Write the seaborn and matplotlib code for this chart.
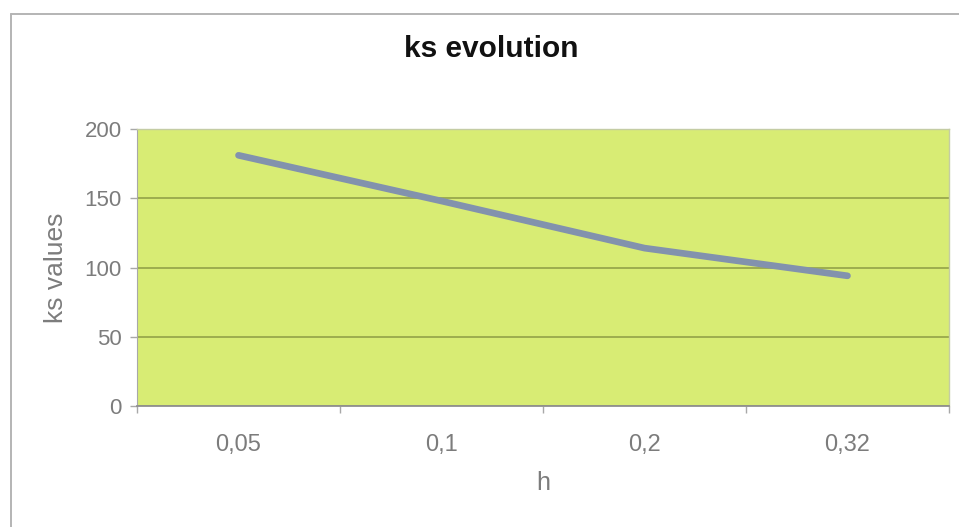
import matplotlib
matplotlib.use("Agg")
import matplotlib.pyplot as plt
import seaborn as sns
import pandas as pd
from matplotlib.lines import Line2D

categories = ["0,05", "0,1", "0,2", "0,32"]
ks_values = [181, 148, 114, 94]
y_ticks = [0, 50, 100, 150, 200]

sns.set_style("white")
plt.rcParams['font.family'] = ['Liberation Sans', 'DejaVu Sans']

df = pd.DataFrame({"h": categories, "ks": ks_values})

fig = plt.figure(figsize=(9.59, 5.27), dpi=100)
ax = fig.add_axes([137/959, 1-406/527, (949-137)/959, (406-129)/527])
ax.set_facecolor("#d8ec74")

sns.lineplot(data=df, x="h", y="ks", ax=ax, color="#8292ad", linewidth=4.8,
             sort=False, solid_capstyle="round")

ax.set_xlim(-0.5, 3.5)
ax.set_ylim(0, 200)
ax.set_yticks(y_ticks)
ax.set_yticklabels([str(v) for v in y_ticks])
ax.yaxis.grid(True, color="#98a84c", linewidth=1.3)
ax.set_axisbelow(True)

# category labels at centres, tick marks at boundaries
ax.set_xticks([0, 1, 2, 3])
ax.set_xticklabels(categories)
ax.tick_params(axis="x", length=0, pad=20, labelsize=17, labelcolor="#7c7c7c")
ax.set_xticks([-0.5, 0.5, 1.5, 2.5, 3.5], minor=True)
ax.tick_params(axis="x", which="minor", length=5, color="#a8a8a8", width=1, bottom=True)
ax.tick_params(axis="y", length=5, color="#a8a8a8", width=1, left=True,
               labelsize=16, labelcolor="#7c7c7c", pad=6)

for side in ["top", "right"]:
    ax.spines[side].set_color("#c4cca4")
    ax.spines[side].set_linewidth(1)
ax.spines["left"].set_color("#a8a8a8")
ax.spines["bottom"].set_color("#909090")
ax.spines["bottom"].set_linewidth(1.3)

ax.set_xlabel("h", fontsize=18, color="#7c7c7c", labelpad=11)
ax.set_ylabel("ks values", fontsize=19, color="#7c7c7c", labelpad=12)

fig.text(491/959, 1-49/527, "ks evolution", ha="center", va="center",
         fontsize=21.5, fontweight="bold", color="#111111")

# outer chart border (left and top edges; the rest is cropped)
fig.lines.append(Line2D([11/959, 11/959], [0, 1-14/527], transform=fig.transFigure,
                        color="#b4b4b4", linewidth=1.4))
fig.lines.append(Line2D([11/959, 1], [1-14/527, 1-14/527], transform=fig.transFigure,
                        color="#b4b4b4", linewidth=1.4))

fig.savefig("out.png", dpi=100)
